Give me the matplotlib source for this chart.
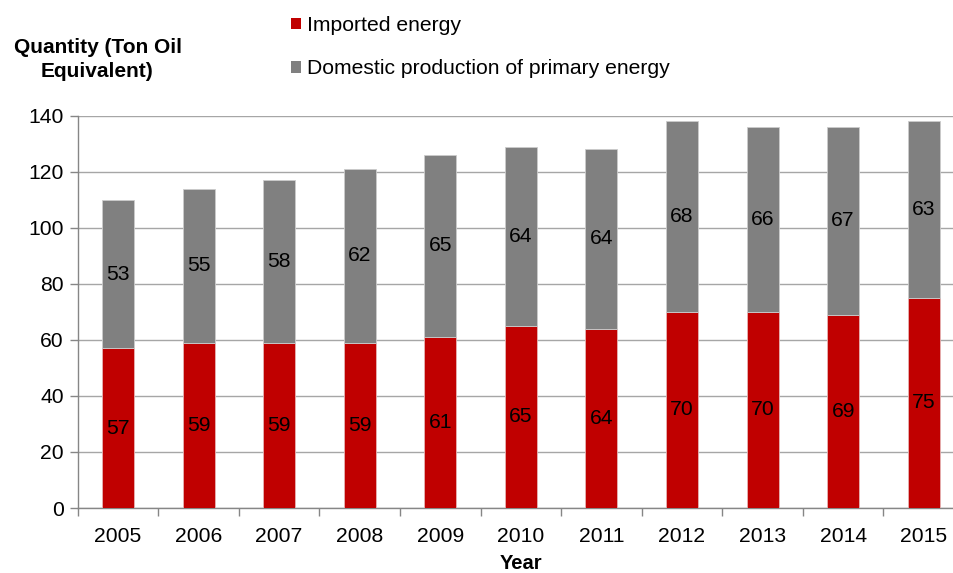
import matplotlib
matplotlib.use("Agg")
import matplotlib.pyplot as plt
from matplotlib.patches import Patch
import numpy as np

plt.rcParams['font.family'] = ['Liberation Sans', 'DejaVu Sans']

years = ['2005', '2006', '2007', '2008', '2009', '2010',
         '2011', '2012', '2013', '2014', '2015']
imported = [57, 59, 59, 59, 61, 65, 64, 70, 70, 69, 75]
domestic = [53, 55, 58, 62, 65, 64, 64, 68, 66, 67, 63]
y_ticks = [0, 20, 40, 60, 80, 100, 120, 140]

RED = '#C00000'
GREY = '#808080'
FS = 15.2

W, H = 954, 573
fig = plt.figure(figsize=(W / 100, H / 100), dpi=100)
ax = fig.add_axes([77.7 / W, 1 - 508 / H, (964 - 77.7) / W, (508 - 115.7) / H])

x = np.arange(len(years))
imp = np.array(imported)
dom = np.array(domestic)
bw = 0.397
ax.bar(x, imp, width=bw, color=RED, edgecolor='#e6b3b3', linewidth=0.6, zorder=3)
ax.bar(x, dom, width=bw, bottom=imp, color=GREY, edgecolor='#cccccc',
       linewidth=0.6, zorder=3)

for xi, a, b in zip(x, imp, dom):
    ax.text(xi, a / 2, f'{a}', ha='center', va='center', fontsize=FS, color='black', zorder=4)
    ax.text(xi, a + b / 2, f'{b}', ha='center', va='center', fontsize=FS, color='black', zorder=4)

ax.set_xlim(-0.5, len(years) - 0.5)
ax.set_ylim(0, 140)
ax.set_yticks(y_ticks)
ax.set_yticklabels([str(t) for t in y_ticks], fontsize=FS)
ax.yaxis.grid(True, color='#a6a6a6', linewidth=1.0, zorder=0)
ax.set_axisbelow(True)

# category boundary ticks, labels centred under bars
ax.set_xticks(np.arange(len(years) + 1) - 0.5)
ax.set_xticklabels([])
ax.set_xticks(x, minor=True)
ax.set_xticklabels(years, minor=True, fontsize=FS)
ax.tick_params(axis='x', which='major', length=6, color='#868686', width=1)
ax.tick_params(axis='x', which='minor', length=0, pad=14)
ax.tick_params(axis='y', length=6, color='#868686', width=1, pad=4)

for s in ['top', 'right']:
    ax.spines[s].set_visible(False)
for s in ['left', 'bottom']:
    ax.spines[s].set_color('#868686')
    ax.spines[s].set_linewidth(1)

fig.text(521.5 / W, 1 - 563.5 / H, 'Year', ha='center', va='center',
         fontsize=14.5, fontweight='bold')

fig.text(97.5 / W, 1 - 59.5 / H, 'Quantity (Ton Oil\nEquivalent)', ha='center', va='center',
         fontsize=15, fontweight='bold', linespacing=1.3)

handles = [Patch(facecolor=RED, edgecolor='none'), Patch(facecolor=GREY, edgecolor='none')]
fig.legend(handles, ['Imported energy', 'Domestic production of primary energy'],
           loc='upper left', bbox_to_anchor=(291 / W, 1 - 16 / H), frameon=False,
           fontsize=FS, handlelength=0.48, handleheight=0.48, handletextpad=0.3,
           labelspacing=1.15, borderpad=0, borderaxespad=0)

fig.savefig('out.png', dpi=100)
